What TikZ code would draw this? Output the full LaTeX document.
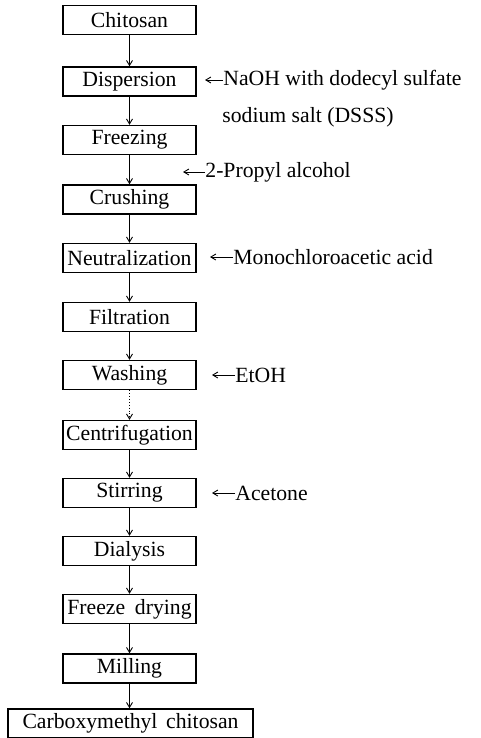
\documentclass[tikz,border=0pt]{standalone}
\usepackage{fontspec}
\setmainfont{Liberation Serif}
\usetikzlibrary{arrows.meta}
\begin{document}
\begin{tikzpicture}[x=0.5pt,y=-0.5pt,
 stepbox/.style={draw,line width=0.7pt,minimum width=66.5pt,minimum height=14.5pt,inner sep=0pt,font=\fontsize{10.85}{13}\selectfont},
 flow/.style={line width=0.45pt,-{Straight Barb[length=2.5pt,width=3pt]}},
 side/.style={anchor=west,inner sep=0pt,font=\fontsize{10.85}{13}\selectfont}]
\useasboundingbox (0,0) rectangle (481,738);
\node[stepbox] (b0)  at (129.5,20)    {Chitosan};
\node[stepbox] (b1)  at (129.5,81.5)  {Dispersion};
\node[stepbox] (b2)  at (129.5,140)   {Freezing};
\node[stepbox] (b3)  at (129.5,199.5) {Crushing};
\node[stepbox] (b4)  at (129.5,258)   {Neutralization};
\node[stepbox] (b5)  at (129.5,317)   {Filtration};
\node[stepbox] (b6)  at (129.5,375)   {Washing};
\node[stepbox] (b7)  at (129.5,435)   {Centrifugation};
\node[stepbox] (b8)  at (129.5,493)   {Stirring};
\node[stepbox] (b9)  at (129.5,551)   {Dialysis};
\node[stepbox] (b10) at (129.5,609)   {Freeze\hspace{0.45em}drying};
\node[stepbox] (b11) at (129.5,668.5) {Milling};
\node[stepbox,minimum width=122.5pt] (b12) at (130.5,723.5) {Carboxymethyl\hspace{0.4em}chitosan};
\draw[flow] (b0) -- (b1);
\draw[flow] (b1) -- (b2);
\draw[flow] (b2) -- (b3);
\draw[flow] (b3) -- (b4);
\draw[flow] (b4) -- (b5);
\draw[flow] (b5) -- (b6);
\draw[flow,densely dotted] (b6) -- (b7);
\draw[flow] (b7) -- (b8);
\draw[flow] (b8) -- (b9);
\draw[flow] (b9) -- (b10);
\draw[flow] (b10) -- (b11);
\draw[flow] (b11.south) -- (b11.south |- b12.north);
% side inputs
\node[side] (l1) at (223,80) {NaOH with dodecyl sulfate};
\node[side] (l1b) at (222,117) {sodium salt (DSSS)};
\coordinate (a1) at (205,80);
\draw[flow] (l1.west) -- (a1);
\node[side] (l2) at (205,172) {2-Propyl alcohol};
\coordinate (a2) at (183,172);
\draw[flow] (l2.west) -- (a2);
\node[side] (l3) at (233,257) {Monochloroacetic acid};
\coordinate (a3) at (210,257);
\draw[flow] (l3.west) -- (a3);
\node[side] (l4) at (235,375) {EtOH};
\coordinate (a4) at (212,375);
\draw[flow] (l4.west) -- (a4);
\node[side] (l5) at (235,493) {Acetone};
\coordinate (a5) at (212,493);
\draw[flow] (l5.west) -- (a5);
\end{tikzpicture}
\end{document}
